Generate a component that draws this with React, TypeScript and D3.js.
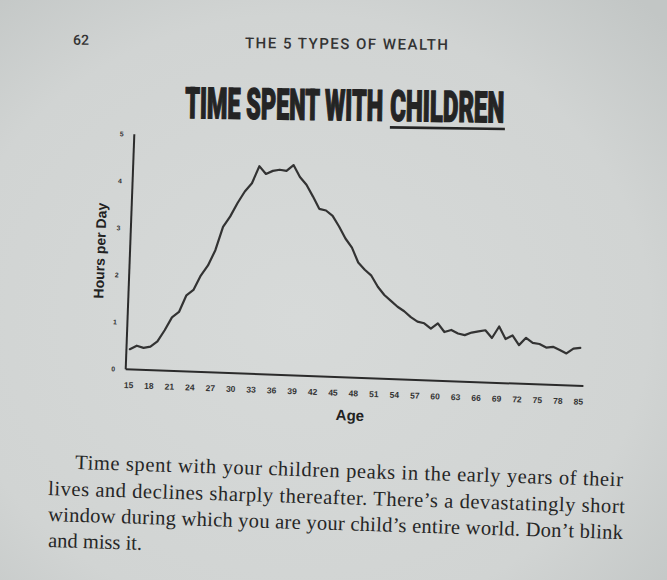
import React, { useLayoutEffect, useRef, useState } from 'react';
import * as d3 from 'd3';

// ---------- data ----------
const ages = [
  15, 16, 17, 18, 19, 20, 21, 22, 23, 24, 25, 26, 27, 28, 29, 30, 31, 32, 33, 34,
  35, 36, 37, 38, 39, 40, 41, 42, 43, 44, 45, 46, 47, 48, 49, 50, 51, 52, 53, 54,
  55, 56, 57, 58, 59, 60, 61, 62, 63, 64, 65, 66, 67, 68, 69, 70, 71, 72, 73, 74,
  75, 76, 77, 78, 79, 80, 81,
];
const hoursPerDay = [
  0.43, 0.51, 0.47, 0.5, 0.62, 0.86, 1.14, 1.26, 1.62, 1.74, 2.05, 2.27, 2.6, 3.1, 3.33, 3.62, 3.87, 4.05, 4.42, 4.26,
  4.33, 4.36, 4.34, 4.47, 4.22, 4.06, 3.82, 3.56, 3.53, 3.42, 3.2, 2.95, 2.76, 2.45, 2.3, 2.18, 1.95, 1.78, 1.66, 1.54,
  1.45, 1.33, 1.24, 1.21, 1.1, 1.22, 1.04, 1.09, 1.02, 0.99, 1.05, 1.08, 1.11, 0.95, 1.2, 0.94, 1.02, 0.82, 0.98, 0.88,
  0.86, 0.79, 0.81, 0.75, 0.68, 0.79, 0.81,
];
const xTickAges = [15, 18, 21, 24, 27, 30, 33, 36, 39, 42, 45, 48, 51, 54, 57, 60, 63, 66, 69, 72, 75, 78, 81];
const xTickLabels = ['15', '18', '21', '24', '27', '30', '33', '36', '39', '42', '45', '48', '51', '54', '57', '60', '63', '66', '69', '72', '75', '78', '85'];
const yTicks = [0, 1, 2, 3, 4, 5];
const titleLead = 'TIME SPENT WITH';
const titleEmph = 'CHILDREN';
const headerText = 'THE 5 TYPES OF WEALTH';
const pageNumber = '62';
const xAxisTitle = 'Age';
const yAxisTitle = 'Hours per Day';
const bodyLines = [
  'Time spent with your children peaks in the early years of their',
  'lives and declines sharply thereafter. There\u2019s a devastatingly short',
  'window during which you are your child\u2019s entire world. Don\u2019t blink',
  'and miss it.',
];

export default function App() {
  const W = 667;
  const H = 580;
  const ox = 125.7;
  const oy = 369.3;
  const tilt = 2.1;
  const axisW = 458;
  const axisH = 235.2;

  const leadRef = useRef<SVGTextElement>(null);
  const emphRef = useRef<SVGTextElement>(null);
  const [scales, setScales] = useState<[number, number]>([0.45, 0.45]);
  useLayoutEffect(() => {
    const w1 = leadRef.current ? leadRef.current.getComputedTextLength() : 0;
    const w2 = emphRef.current ? emphRef.current.getComputedTextLength() : 0;
    if (w1 > 0 && w2 > 0) setScales([198 / w1, 114 / w2]);
  }, []);

  const x = d3.scaleLinear().domain([15, 81]).range([3.4, 453.5]);
  const y = d3.scaleLinear().domain([0, 5]).range([0, -axisH]);
  const linePath = d3
    .line<number>()
    .x((_, i) => x(ages[i]))
    .y((d) => y(d))(hoursPerDay) as string;

  const ink = '#2b2b2b';

  const bodyStarts = [
    { x: 75, y: 469, len: 548 },
    { x: 48, y: 495, len: 577 },
    { x: 48, y: 521, len: 575 },
    { x: 48, y: 547, len: 0 },
  ];
  const bodyTilt = 1.8;
  const titleFont = "Roboto, 'Liberation Sans', sans-serif";

  return (
    <svg
      width={W}
      height={H}
      style={{ position: 'absolute', left: 0, top: 0, display: 'block' }}
    >
      <defs>
        <radialGradient id="paper" cx="0.45" cy="0.55" r="0.75">
          <stop offset="0" stopColor="#d7dad9" />
          <stop offset="0.7" stopColor="#d1d4d3" />
          <stop offset="1" stopColor="#c2c6c5" />
        </radialGradient>
      </defs>
      <rect x={0} y={0} width={W} height={H} fill="url(#paper)" />

      {/* running header */}
      <g transform="rotate(0.5 345 44)">
        <text x={73} y={47} fontFamily="Roboto, 'DejaVu Sans', sans-serif" fontSize={14} fontWeight={500} fill="#333">
          {pageNumber}
        </text>
        <text
          x={245}
          y={49}
          fontFamily="Roboto, 'DejaVu Sans', sans-serif"
          fontSize={15}
          fontWeight={500}
          fill="#333"
          textLength={203}
          lengthAdjust="spacing"
        >
          {headerText}
        </text>
      </g>

      {/* title */}
      <g transform="rotate(0.8 185 118)" fill="#242424" stroke="#242424">
        <g transform={`translate(185,118) scale(${scales[0]},1)`}>
          <text ref={leadRef} x={0} y={0} fontFamily={titleFont} fontSize={43} fontWeight={900} strokeWidth={1.4}>
            {titleLead}
          </text>
        </g>
        <g transform={`translate(390,118) scale(${scales[1]},1)`}>
          <text ref={emphRef} x={0} y={0} fontFamily={titleFont} fontSize={43} fontWeight={900} strokeWidth={1.4}>
            {titleEmph}
          </text>
        </g>
        <line x1={390} x2={505} y1={124.5} y2={124.5} strokeWidth={2.6} />
      </g>

      {/* chart */}
      <g transform={`translate(${ox},${oy}) rotate(${tilt})`}>
        <line x1={0} y1={0} x2={axisW} y2={0} stroke={ink} strokeWidth={2} />
        <line x1={0} y1={0} x2={0} y2={-axisH} stroke={ink} strokeWidth={2} />
        {yTicks.map((t) => (
          <text
            key={t}
            x={-12.5}
            y={y(t)}
            textAnchor="middle"
            dominantBaseline="central"
            fontFamily="'Liberation Sans', Arial, sans-serif"
            fontSize={6.8}
            fontWeight={700}
            fill="#333"
          >
            {t}
          </text>
        ))}
        {xTickAges.map((a, i) => (
          <text
            key={a}
            x={x(a)}
            y={15.7}
            textAnchor="middle"
            dominantBaseline="central"
            fontFamily="'Liberation Sans', Arial, sans-serif"
            fontSize={8.5}
            fontWeight={700}
            fill="#333"
          >
            {xTickLabels[i]}
          </text>
        ))}
        <path
          d={linePath}
          fill="none"
          stroke="#333"
          strokeWidth={2.2}
          strokeLinejoin="round"
          strokeLinecap="round"
        />
        <text
          x={225.8}
          y={37.5}
          textAnchor="middle"
          dominantBaseline="central"
          fontFamily="'Liberation Sans', Arial, sans-serif"
          fontSize={15}
          fontWeight={700}
          fill="#222"
        >
          {xAxisTitle}
        </text>
        <text
          transform={`translate(-30,${-axisH / 2}) rotate(-90)`}
          textAnchor="middle"
          dominantBaseline="central"
          fontFamily="'Liberation Sans', Arial, sans-serif"
          fontSize={14}
          fontWeight={700}
          fill="#222"
        >
          {yAxisTitle}
        </text>
      </g>

      {/* body text */}
      {bodyLines.map((t, i) => {
        const s = bodyStarts[i];
        return (
          <text
            key={i}
            x={s.x}
            y={s.y}
            transform={`rotate(${bodyTilt} ${s.x} ${s.y})`}
            fontFamily="'Liberation Serif', 'Times New Roman', serif"
            fontSize={20.5}
            fill="#262626"
            {...(s.len ? { textLength: s.len, lengthAdjust: 'spacing' } : {})}
          >
            {t}
          </text>
        );
      })}
    </svg>
  );
}
